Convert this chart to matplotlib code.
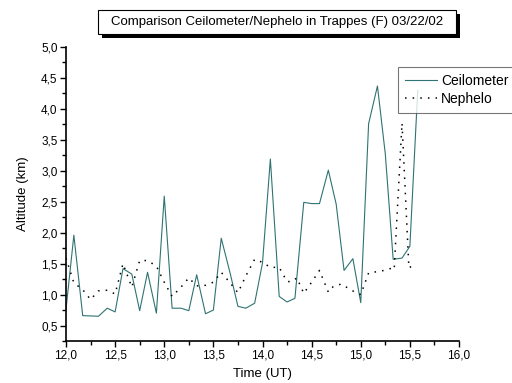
import matplotlib
matplotlib.use('Agg')
import matplotlib.pyplot as plt
from matplotlib.patches import Rectangle
from matplotlib.ticker import MultipleLocator, FuncFormatter

plt.rcParams['font.family'] = ['Liberation Sans', 'DejaVu Sans']

# Ceilometer (time in UT hours, altitude in km)
ceil_t = [12.00, 12.08, 12.17, 12.25, 12.33, 12.42, 12.50, 12.58, 12.67, 12.75,
          12.83, 12.92, 13.00, 13.08, 13.17, 13.25, 13.33, 13.42, 13.50, 13.58,
          13.67, 13.75, 13.83, 13.92, 14.00, 14.08, 14.17, 14.25, 14.33, 14.42,
          14.50, 14.58, 14.67, 14.75, 14.83, 14.92, 15.00, 15.08, 15.17, 15.25,
          15.33, 15.42, 15.50, 15.58]
ceil_alt = [0.76, 1.96, 0.66, 0.655, 0.65, 0.78, 0.72, 1.42, 1.33, 0.74,
            1.36, 0.70, 2.59, 0.78, 0.78, 0.74, 1.32, 0.69, 0.75, 1.91,
            1.35, 0.81, 0.78, 0.86, 1.51, 3.19, 0.97, 0.88, 0.94, 2.49,
            2.47, 2.47, 3.01, 2.46, 1.39, 1.58, 0.87, 3.76, 4.37, 3.27,
            1.57, 1.59, 1.78, 4.30]

# Nephelometer
neph_t = [12.00, 12.08, 12.17, 12.25, 12.33, 12.42, 12.50, 12.58, 12.67, 12.75,
          12.83, 12.92, 13.00, 13.08, 13.17, 13.25, 13.33, 13.42, 13.50, 13.58,
          13.67, 13.75, 13.83, 13.92, 14.00, 14.08, 14.17, 14.25, 14.30, 14.35,
          14.42, 14.50, 14.58, 14.67, 14.72, 14.80, 14.94, 15.00, 15.08, 15.21,
          15.30, 15.34, 15.42, 15.49, 15.56]
neph_alt = [1.59, 1.19, 1.08, 0.92, 1.06, 1.07, 1.01, 1.50, 1.12, 1.55,
            1.55, 1.46, 1.20, 0.97, 1.12, 1.27, 1.14, 1.15, 1.20, 1.36,
            1.19, 1.03, 1.30, 1.57, 1.52, 1.44, 1.44, 1.21, 1.21, 1.27,
            1.02, 1.20, 1.39, 1.04, 1.13, 1.17, 1.04, 1.00, 1.35, 1.38,
            1.42, 1.40, 3.77, 1.43, 1.50]

W, H = 512, 383
fig = plt.figure(figsize=(W / 100, H / 100), dpi=100)
ax = fig.add_axes([66 / W, 1 - 341 / H, (459 - 66) / W, (341 - 47) / H])

ax.plot(ceil_t, ceil_alt, color='#2f7373', linewidth=0.8, label='Ceilometer')
ax.plot(neph_t, neph_alt, color='black', linewidth=1.1, linestyle=(0, (1, 4)),
        label='Nephelo')

ax.set_xlim(12, 16)
ax.set_ylim(0.25, 5.0)
ax.xaxis.set_major_locator(MultipleLocator(0.5))
ax.xaxis.set_minor_locator(MultipleLocator(0.25))
ax.yaxis.set_major_locator(MultipleLocator(0.5))
ax.yaxis.set_minor_locator(MultipleLocator(0.25))
comma = FuncFormatter(lambda v, p: f'{v:.1f}'.replace('.', ','))
ax.xaxis.set_major_formatter(comma)
ax.yaxis.set_major_formatter(comma)
ax.tick_params(which='major', direction='out', length=4, width=1, labelsize=8.5, pad=2)
ax.tick_params(which='minor', direction='out', length=3, width=1)

for s in ['top', 'right']:
    ax.spines[s].set_visible(False)
ax.spines['left'].set_linewidth(1.2)
ax.spines['bottom'].set_linewidth(1.2)

ax.set_xlabel('Time (UT)', fontsize=9.5, labelpad=5)
ax.set_ylabel('Altitude (km)', fontsize=9.5, labelpad=9)

# legend partly outside the figure on the right
leg = fig.legend(loc='upper left', bbox_to_anchor=(398 / W, 1 - 67 / H),
                 fontsize=10, frameon=True, fancybox=False, borderpad=0.5,
                 borderaxespad=0, handlelength=2.3, handletextpad=0.3,
                 labelspacing=0.3)
leg.get_frame().set_edgecolor('#555555')
leg.get_frame().set_linewidth(0.8)

# title box with drop shadow
x0, x1, y0, y1 = 98, 456, 10, 34
fig.patches.append(Rectangle(((x0 + 4) / W, 1 - (y1 + 4) / H), (x1 - x0) / W, (y1 - y0) / H,
                             transform=fig.transFigure, facecolor='black', edgecolor='none'))
fig.patches.append(Rectangle((x0 / W, 1 - y1 / H), (x1 - x0) / W, (y1 - y0) / H,
                             transform=fig.transFigure, facecolor='white', edgecolor='black',
                             linewidth=0.8))
fig.text((x0 + x1) / 2 / W, 1 - (y0 + y1) / 2 / H,
         'Comparison Ceilometer/Nephelo in Trappes (F) 03/22/02',
         ha='center', va='center', fontsize=9.5)

fig.savefig('out.png', dpi=100)
